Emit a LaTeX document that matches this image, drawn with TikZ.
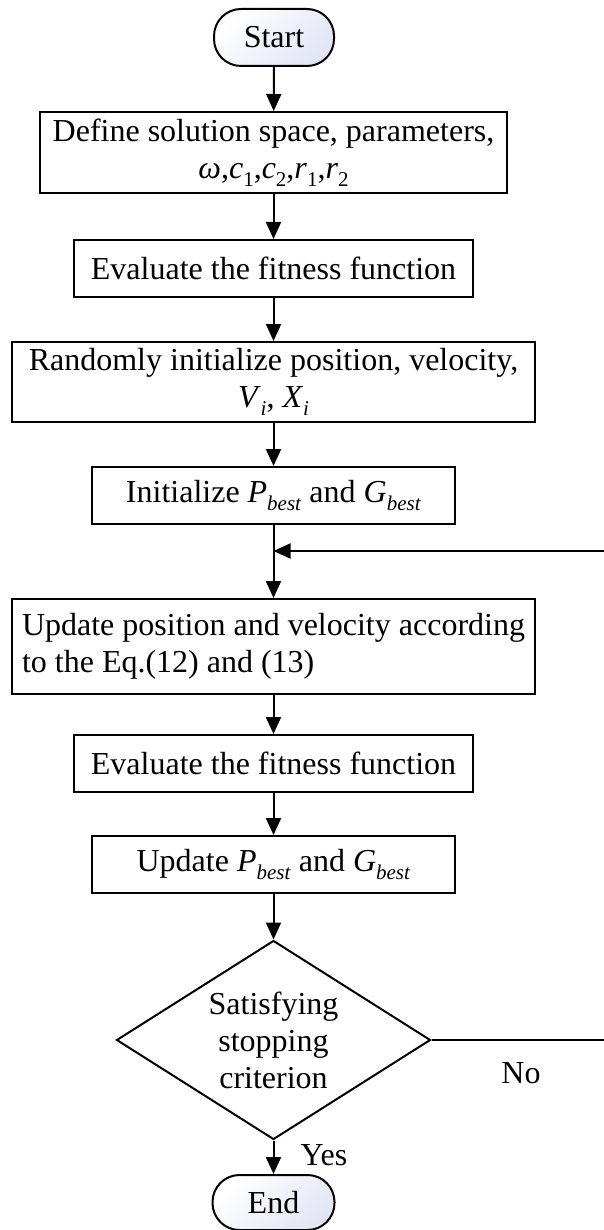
\documentclass[tikz,border=0pt]{standalone}
\usepackage{fontspec}
\setmainfont{Liberation Serif}
\usetikzlibrary{arrows.meta,shapes.geometric}
\newcommand{\subsc}[1]{\raisebox{-0.25em}{\fontsize{21}{21}\selectfont #1}}
\newcommand{\best}{\subsc{\textit{best}}}
\definecolor{termfill}{RGB}{226,230,244}
\tikzset{
  every node/.style={font=\fontsize{32}{37}\selectfont},
  procbox/.style={draw, line width=2pt, rectangle, inner sep=0pt, align=center},
  termbox/.style={draw, line width=2pt, rectangle, rounded corners=27pt, inner sep=0pt,
     left color=white, right color=termfill, shading angle=45},
  decbox/.style={draw, line width=2pt, diamond, inner sep=0pt},
  arr/.style={line width=2pt, -{Triangle[length=17pt,width=15pt]}},
}
\begin{document}
\begin{tikzpicture}[x=1pt,y=-1pt]
\useasboundingbox (0,0) rectangle (604,1230);
\node[termbox, minimum width=120pt, minimum height=57pt] (start) at (274,37.5) {Start};
\node[procbox, minimum width=467pt, minimum height=81pt] (b1) at (273.5,152.5)
  {Define solution space, parameters,\\ \textit{ω},\textit{c}\subsc{1},\textit{c}\subsc{2},\textit{r}\subsc{1},\textit{r}\subsc{2}};
\node[procbox, minimum width=399pt, minimum height=57pt] (b2) at (273.5,268.5) {Evaluate the fitness function};
\node[procbox, minimum width=523pt, minimum height=80pt] (b3) at (273.5,382)
  {Randomly initialize position, velocity,\\ \textit{V}\subsc{\textit{i}}, \textit{X}\subsc{\textit{i}}};
\node[procbox, minimum width=363pt, minimum height=57pt] (b4) at (273.5,495.5) {Initialize \textit{P}\best{} and \textit{G}\best};
\node[procbox, minimum width=523pt, minimum height=95pt, align=left] (b5) at (273.5,646.5)
  {Update position and velocity according\\to the Eq.(12) and (13)};
\node[procbox, minimum width=399pt, minimum height=57pt] (b6) at (273.5,763.5) {Evaluate the fitness function};
\node[procbox, minimum width=363pt, minimum height=57pt] (b7) at (273.5,864.5) {Update \textit{P}\best{} and \textit{G}\best};
\node[decbox, minimum width=314pt, minimum height=199pt] (dec) at (273.5,1040) {};
\node[align=center] (dectext) at (dec.center) {Satisfying\\stopping\\criterion};
\node[termbox, minimum width=122pt, minimum height=55pt] (end) at (273.5,1202.5) {End};
\node (yes) at (324,1155) {Yes};
\node (no) at (521,1073) {No};
\coordinate (merge) at (273.5,551);
\coordinate (cr) at (609,1040);
\draw[arr] (start) -- (b1);
\draw[arr] (b1) -- (b2);
\draw[arr] (b2) -- (b3);
\draw[arr] (b3) -- (b4);
\draw[arr] (b4) -- (b5);
\draw[arr] (b5) -- (b6);
\draw[arr] (b6) -- (b7);
\draw[arr] (b7) -- (dec);
\draw[arr] (dec) -- (end);
\draw[arr] (dec.east) -- (cr) |- (merge);
\end{tikzpicture}
\end{document}
